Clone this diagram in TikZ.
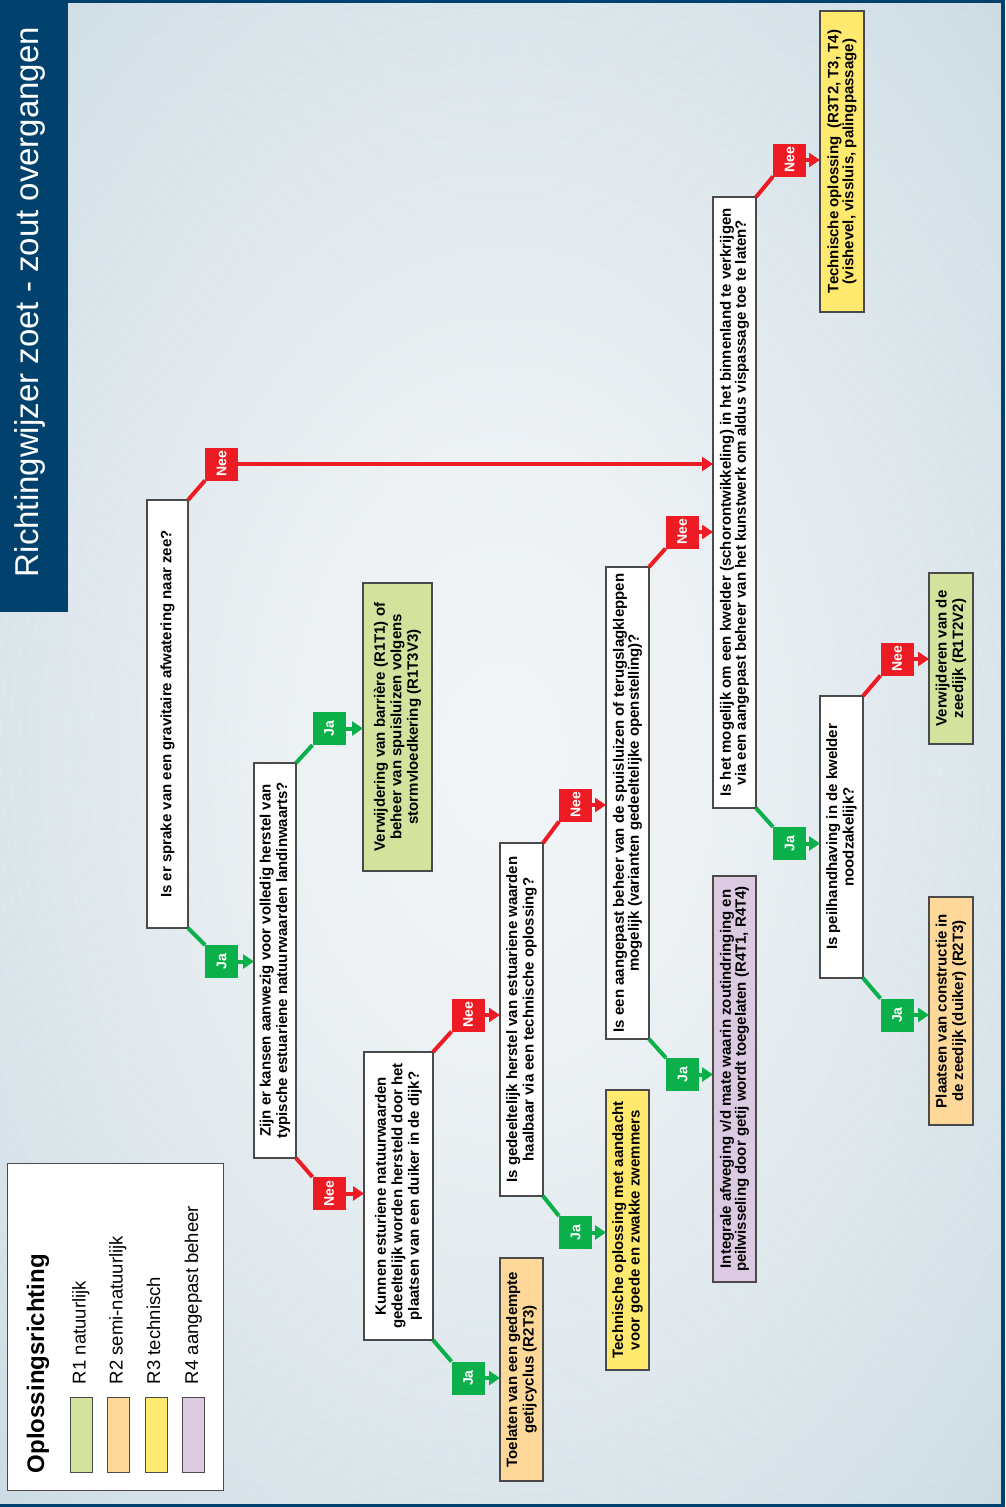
\documentclass[tikz,border=0pt]{standalone}
\usepackage{fontspec}
\setmainfont{Liberation Sans}
\usetikzlibrary{arrows.meta}

\definecolor{frameblue}{HTML}{00416E}
\definecolor{neered}{HTML}{ED1C24}
\definecolor{jagreen}{HTML}{0BB04B}
\definecolor{rgreen}{HTML}{D3E29C}
\definecolor{rorange}{HTML}{FDD899}
\definecolor{ryellow}{HTML}{FFE96E}
\definecolor{rpurple}{HTML}{DCCAE3}
\definecolor{boxline}{HTML}{4A4A4A}
\definecolor{bgA}{HTML}{F3F6F8}
\definecolor{bgB}{HTML}{ECF1F4}
\definecolor{bgC}{HTML}{D4E1E8}
\definecolor{bgD}{HTML}{B5CCD8}
\definecolor{bgE}{HTML}{A0BFCE}

\pgfdeclareradialshading{backdrop}{\pgfpoint{0bp}{0bp}}{%
  color(0bp)=(bgA); color(10bp)=(bgB); color(30bp)=(bgC);
  color(50bp)=(bgD); color(71bp)=(bgE); color(80bp)=(bgE)}

\tikzset{
  every node/.style={inner sep=0pt, outer sep=0pt},
  vbox/.style={draw=boxline, line width=1.3pt, rotate=90, align=center,
    font=\bfseries\fontsize{15}{16.5}\selectfont},
  tight/.style={font=\bfseries\fontsize{15}{15.2}\selectfont},
  qbox/.style={vbox, fill=white},
  r1box/.style={vbox, fill=rgreen},
  r2box/.style={vbox, fill=rorange},
  r3box/.style={vbox, fill=ryellow},
  r4box/.style={vbox, fill=rpurple},
  tag/.style={rotate=90, minimum width=33pt, minimum height=33pt,
    text=white, font=\bfseries\fontsize{14}{15}\selectfont},
  neetag/.style={tag, fill=neered},
  jatag/.style={tag, fill=jagreen},
  neeline/.style={draw=neered, line width=4pt},
  jaline/.style={draw=jagreen, line width=4pt},
  neearrow/.style={draw=neered, line width=4pt,
    -{Triangle[length=11pt,width=14pt]}},
  jaarrow/.style={draw=jagreen, line width=4pt,
    -{Triangle[length=11pt,width=14pt]}},
  swatch/.style={draw=boxline, line width=1pt, minimum width=22pt,
    minimum height=75pt},
  legendtext/.style={rotate=90, anchor=base west,
    font=\fontsize{18.5}{20}\selectfont}
}

\begin{document}
\begin{tikzpicture}[x=1pt, y=-1pt]
\useasboundingbox (0,0) rectangle (1005,1507);

% backdrop with faint concentric rings, then the frame
\shade[shading=backdrop] (0,0) rectangle (1005,1507);
\begin{scope}
  \clip (0,0) rectangle (1005,1507);
  \foreach \r in {40,50,...,920}
    \draw[white, opacity=0.22, line width=0.5pt] (500,750) circle[radius=\r];
\end{scope}
\fill[frameblue] (0,0) rectangle (1005,3);
\fill[frameblue] (1001,0) rectangle (1005,1507);
\fill[frameblue] (0,1504) rectangle (1005,1507);
\fill[frameblue] (0,0) rectangle (68,612);
\node[rotate=90, text=white, font=\fontsize{33}{36}\selectfont] (title)
  at (30,302) {Richtingwijzer zoet - zout overgangen};

% legend
\node[draw=boxline, fill=white, line width=1pt, minimum width=216pt,
  minimum height=327pt] (legend) at (115,1326.5) {};
\node[legendtext, font=\bfseries\fontsize{24}{26}\selectfont] (legtitle)
  at (44,1473) {Oplossingsrichting};
\node[swatch, fill=rgreen]  (sw1) at (81,1434.5) {};
\node[swatch, fill=rorange] (sw2) at (118,1434.5) {};
\node[swatch, fill=ryellow] (sw3) at (156,1434.5) {};
\node[swatch, fill=rpurple] (sw4) at (193.5,1434.5) {};
\node[legendtext] (leg1) at (85.5,1384) {R1 natuurlijk};
\node[legendtext] (leg2) at (122.5,1384) {R2 semi-natuurlijk};
\node[legendtext] (leg3) at (160,1384) {R3 technisch};
\node[legendtext] (leg4) at (198,1384) {R4 aangepast beheer};

% questions
\node[qbox, minimum width=428pt, minimum height=41pt] (q1) at (167.5,714)
  {Is er sprake van een gravitaire afwatering naar zee?};
\node[qbox, minimum width=395pt, minimum height=42pt] (q2) at (275,960.5)
  {Zijn er kansen aanwezig voor volledig herstel van\\
   typische estuariene natuurwaarden landinwaarts?};
\node[qbox, minimum width=288pt, minimum height=69pt] (q3) at (398.5,1196)
  {Kunnen esturiene natuurwaarden\\
   gedeeltelijk worden hersteld door het\\
   plaatsen van een duiker in de dijk?};
\node[qbox, minimum width=353pt, minimum height=43pt] (q4) at (521.5,1019.5)
  {Is gedeeltelijk herstel van estuariene waarden\\
   haalbaar via een technische oplossing?};
\node[qbox, tight, minimum width=472pt, minimum height=43pt] (q5) at (627.5,803)
  {Is een aangepast beheer van de spuisluizen of terugslagkleppen\\
   mogelijk (varianten gedeeltelijke openstelling)?};
\node[qbox, tight, minimum width=611pt, minimum height=43pt] (q6) at (734.5,502.5)
  {Is het mogelijk om een kwelder (schorontwikkeling) in het binnenland te verkrijgen\\
   via een aangepast beheer van het kunstwerk om aldus vispassage toe te laten?};
\node[qbox, minimum width=282pt, minimum height=43pt] (q7) at (841.5,837)
  {Is peilhandhaving in de kwelder\\noodzakelijk?};

% outcomes
\node[r1box, minimum width=288pt, minimum height=69pt] (ra) at (397.5,727)
  {Verwijdering van barrière (R1T1) of\\
   beheer van spuisluizen volgens\\stormvloedkering (R1T3V3)};
\node[r2box, minimum width=223pt, minimum height=43pt] (rb) at (521.5,1369.5)
  {Toelaten van een gedempte\\getijcyclus (R2T3)};
\node[r3box, minimum width=280pt, minimum height=43pt] (rc) at (627.5,1230)
  {Technische oplossing met aandacht\\voor goede en zwakke zwemmers};
\node[r4box, tight, minimum width=406pt, minimum height=43pt] (rd) at (734.5,1079)
  {Integrale afweging v/d mate waarin zoutindringing en\\
   peilwisseling door getij wordt toegelaten (R4T1, R4T4)};
\node[r3box, tight, minimum width=301pt, minimum height=44pt] (re) at (842,161.5)
  {Technische oplossing\ \ (R3T2, T3, T4)\\
   (vishevel, vissluis, palingpassage)};
\node[r1box, minimum width=171pt, minimum height=44pt] (rf) at (951,658.5)
  {Verwijderen van de\\zeedijk (R1T2V2)};
\node[r2box, minimum width=228pt, minimum height=44pt] (rg) at (951,1011)
  {Plaatsen van constructie in\\de zeedijk (duiker) (R2T3)};

% answer tags
\node[neetag] (n1) at (221.5,464) {Nee};
\node[jatag]  (j1) at (221.5,961.5) {Ja};
\node[jatag]  (j2) at (329,728.5) {Ja};
\node[neetag] (n2) at (329,1193.5) {Nee};
\node[neetag] (n3) at (468,1015) {Nee};
\node[jatag]  (j3) at (468,1378) {Ja};
\node[neetag] (n4) at (575.5,805) {Nee};
\node[jatag]  (j4) at (575.5,1232.5) {Ja};
\node[neetag] (n5) at (682,532) {Nee};
\node[jatag]  (j5) at (682.5,1074.5) {Ja};
\node[neetag] (n6) at (789.5,160) {Nee};
\node[jatag]  (j6) at (789.5,843.5) {Ja};
\node[neetag] (n7) at (897,659) {Nee};
\node[jatag]  (j7) at (897,1015) {Ja};

% connectors: question corner to tag, tag to next box
\draw[neeline] (q1.south east) -- (n1.north west);
\draw[neeline, line width=3.3pt, -{Triangle[length=11pt,width=14pt]}]
  (n1.south) -- (n1.south -| q6.north);
\draw[jaline] (q1.south west) -- (j1.north east);
\draw[jaarrow] (j1.south) -- (j1.south -| q2.north);

\draw[jaline] (q2.south east) -- (j2.north west);
\draw[jaarrow] (j2.south) -- (j2.south -| ra.north);
\draw[neeline] (q2.south west) -- (n2.north east);
\draw[neearrow] (n2.south) -- (n2.south -| q3.north);

\draw[neeline] (q3.south east) -- (n3.north west);
\draw[neearrow] (n3.south) -- (n3.south -| q4.north);
\draw[jaline] (q3.south west) -- (j3.north east);
\draw[jaarrow] (j3.south) -- (j3.south -| rb.north);

\draw[neeline] (q4.south east) -- (n4.north west);
\draw[neearrow] (n4.south) -- (n4.south -| q5.north);
\draw[jaline] (q4.south west) -- (j4.north east);
\draw[jaarrow] (j4.south) -- (j4.south -| rc.north);

\draw[neeline] (q5.south east) -- (n5.north west);
\draw[neearrow] (n5.south) -- (n5.south -| q6.north);
\draw[jaline] (q5.south west) -- (j5.north east);
\draw[jaarrow] (j5.south) -- (j5.south -| rd.north);

\draw[neeline] (q6.south east) -- (n6.north west);
\draw[neearrow] (n6.south) -- (n6.south -| re.north);
\draw[jaline] (q6.south west) -- (j6.north east);
\draw[jaarrow] (j6.south) -- (j6.south -| q7.north);

\draw[neeline] (q7.south east) -- (n7.north west);
\draw[neearrow] (n7.south) -- (n7.south -| rf.north);
\draw[jaline] (q7.south west) -- (j7.north east);
\draw[jaarrow] (j7.south) -- (j7.south -| rg.north);
\end{tikzpicture}
\end{document}
